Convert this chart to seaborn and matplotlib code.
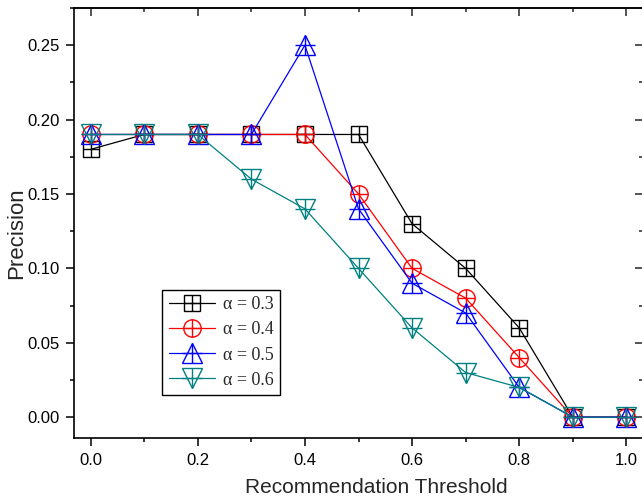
import matplotlib
matplotlib.use('Agg')
import matplotlib.pyplot as plt
from matplotlib.lines import Line2D
from matplotlib.legend_handler import HandlerTuple
from matplotlib.ticker import MultipleLocator
import seaborn as sns

# ── Data ──────────────────────────────────────────────────────────────────────
thresholds = [0.0, 0.1, 0.2, 0.3, 0.4, 0.5, 0.6, 0.7, 0.8, 0.9, 1.0]
prec_a03 = [0.18, 0.19, 0.19, 0.19, 0.19, 0.19, 0.13, 0.10, 0.06, 0.0, 0.0]
prec_a04 = [0.19, 0.19, 0.19, 0.19, 0.19, 0.15, 0.10, 0.08, 0.04, 0.0, 0.0]
prec_a05 = [0.19, 0.19, 0.19, 0.19, 0.25, 0.14, 0.09, 0.07, 0.02, 0.0, 0.0]
prec_a06 = [0.19, 0.19, 0.19, 0.16, 0.14, 0.10, 0.06, 0.03, 0.02, 0.0, 0.0]
labels = ['α = 0.3', 'α = 0.4', 'α = 0.5', 'α = 0.6']

series = [prec_a03, prec_a04, prec_a05, prec_a06]
colors = ['#000000', '#FF0000', '#0000FF', '#008080']
markers = ['s', 'o', '^', 'v']
msizes = [11, 12.5, 14, 14]

# ── Plot ──────────────────────────────────────────────────────────────────────
sns.set_style('ticks')
plt.rcParams['font.family'] = ['Liberation Sans', 'DejaVu Sans']

fig = plt.figure(figsize=(6.42, 5.04), dpi=100)
ax = fig.add_axes([74 / 642, 66 / 504, 569 / 642, 430 / 504])

handles = []
for y, c, m, ms in zip(series, colors, markers, msizes):
    sns.lineplot(x=thresholds, y=y, ax=ax, color=c, lw=0.9, marker=m,
                 markersize=ms, markerfacecolor='none', markeredgecolor=c,
                 markeredgewidth=1.0)
    sns.scatterplot(x=thresholds, y=y, ax=ax, marker='+', s=ms ** 2,
                    color=c, linewidth=1.0, zorder=3)
    h1 = Line2D([], [], color=c, lw=0.9, marker=m, markersize=ms,
                markerfacecolor='none', markeredgecolor=c, markeredgewidth=1.0)
    h2 = Line2D([], [], ls='none', marker='+', markersize=ms, color=c,
                markeredgewidth=1.0)
    handles.append((h1, h2))

ax.set_xlim(-0.031, 1.031)
ax.set_ylim(-0.014, 0.275)
ax.xaxis.set_major_locator(MultipleLocator(0.2))
ax.xaxis.set_minor_locator(MultipleLocator(0.1))
ax.yaxis.set_major_locator(MultipleLocator(0.05))
ax.yaxis.set_minor_locator(MultipleLocator(0.025))
ax.xaxis.set_major_formatter(plt.FormatStrFormatter('%.1f'))
ax.yaxis.set_major_formatter(plt.FormatStrFormatter('%.2f'))

ax.tick_params(which='both', direction='out', width=1.1, labelsize=12,
               top=False, right=False, pad=5, colors='black')
ax.tick_params(which='major', length=5.5)
ax.tick_params(which='minor', length=3)

for s in ax.spines.values():
    s.set_visible(True)
    s.set_linewidth(1.2)
    s.set_color('black')

# inward ticks on top and right
ax_top = ax.secondary_xaxis('top')
ax_top.xaxis.set_major_locator(MultipleLocator(0.2))
ax_top.xaxis.set_minor_locator(MultipleLocator(0.1))
ax_top.tick_params(which='both', direction='in', width=1.1, labeltop=False)
ax_top.tick_params(which='major', length=5.5)
ax_top.tick_params(which='minor', length=3)
ax_top.spines['top'].set_linewidth(1.2)
ax_right = ax.secondary_yaxis('right')
ax_right.yaxis.set_major_locator(MultipleLocator(0.05))
ax_right.yaxis.set_minor_locator(MultipleLocator(0.025))
ax_right.tick_params(which='both', direction='in', width=1.1, labelright=False)
ax_right.tick_params(which='major', length=5.5)
ax_right.tick_params(which='minor', length=3)

ax.set_xlabel('Recommendation Threshold', fontsize=15)
ax.set_ylabel('Precision', fontsize=16)
ax.xaxis.set_label_coords(0.531, -0.093)
ax.yaxis.set_label_coords(-0.082, 0.476)

leg = ax.legend(handles, labels, loc='lower left',
                bbox_to_anchor=(0.155, 0.10), borderaxespad=0,
                handler_map={tuple: HandlerTuple(ndivide=1)},
                prop={'family': 'Liberation Serif', 'size': 13},
                frameon=True, fancybox=False, edgecolor='black',
                framealpha=1, handlelength=2.6, handletextpad=0.4,
                labelspacing=0.45, borderpad=0.35)
leg.get_frame().set_linewidth(1.0)

fig.savefig('out.png', dpi=100, facecolor='white')
